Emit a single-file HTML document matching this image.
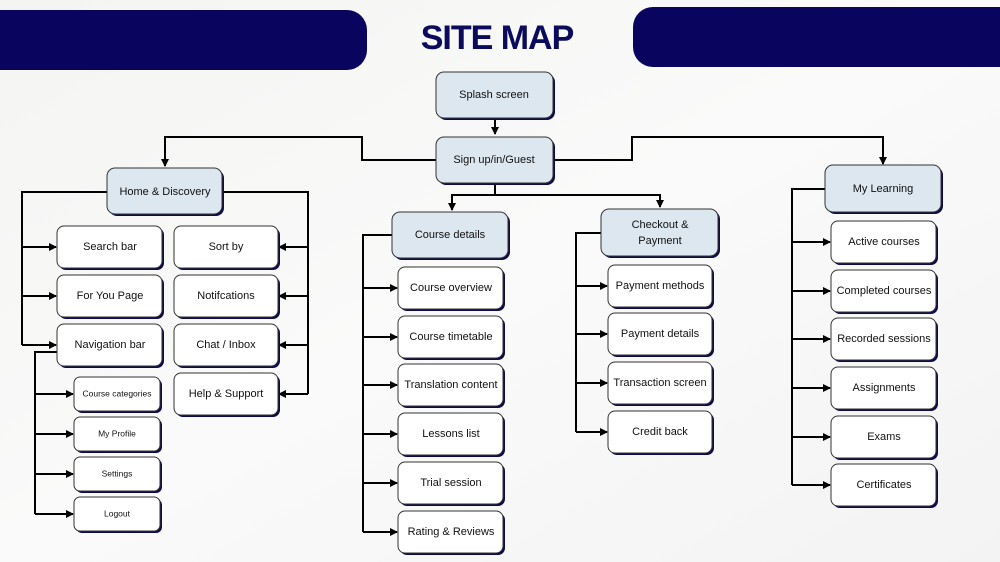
<!DOCTYPE html>
<html><head><meta charset="utf-8"><style>
html,body{margin:0;padding:0;background:#fff;}
svg{display:block;font-family:"Liberation Sans",sans-serif;}
.b{fill:#fff;stroke:#333;stroke-width:1;}
.h{fill:#dce7f0;stroke:#333;stroke-width:1;}
.s{fill:#0d0b4a;}
.t{font-size:11px;fill:#111;text-anchor:middle;dominant-baseline:middle;}
.ts{font-size:8.5px;fill:#111;text-anchor:middle;dominant-baseline:middle;}
.l{fill:none;stroke:#000;stroke-width:2;}
</style></head><body>
<svg width="1000" height="562" viewBox="0 0 1000 562" xmlns="http://www.w3.org/2000/svg">
<defs>
<marker id="a" markerWidth="8" markerHeight="8" refX="7" refY="4" orient="auto" markerUnits="userSpaceOnUse"><path d="M0,0 L8,4 L0,8 z" fill="#000"/></marker>
<linearGradient id="bg" x1="0" y1="0" x2="1" y2="1"><stop offset="0" stop-color="#f4f4f2"/><stop offset="0.5" stop-color="#fafafa"/><stop offset="1" stop-color="#f3f3f3"/></linearGradient>
</defs>
<rect width="1000" height="562" fill="url(#bg)"/>
<path d="M0,10 H347 A20,20 0 0 1 367,30 V50 A20,20 0 0 1 347,70 H0 Z" fill="#09055e"/>
<path d="M1000,7 H653 A20,20 0 0 0 633,27 V47 A20,20 0 0 0 653,67 H1000 Z" fill="#09055e"/>
<text x="497" y="49" text-anchor="middle" font-size="34" font-weight="bold" fill="#0b0a5c" letter-spacing="-1">SITE MAP</text>

<!-- connectors -->
<path class="l" d="M495,118 V134" marker-end="url(#a)"/>
<path class="l" d="M436,160 H362 V137 H165 V166" marker-end="url(#a)"/>
<path class="l" d="M553,160 H632 V137 H883 V164" marker-end="url(#a)"/>
<path class="l" d="M495,183 V195 H452 V210" marker-end="url(#a)"/>
<path class="l" d="M495,195 H660 V207" marker-end="url(#a)"/>

<path class="l" d="M107,192 H22 V345"/>
<path class="l" d="M22,247 H56" marker-end="url(#a)"/>
<path class="l" d="M22,296 H56" marker-end="url(#a)"/>
<path class="l" d="M22,345 H56" marker-end="url(#a)"/>
<path class="l" d="M222,192 H308 V394"/>
<path class="l" d="M308,247 H279" marker-end="url(#a)"/>
<path class="l" d="M308,296 H279" marker-end="url(#a)"/>
<path class="l" d="M308,345 H279" marker-end="url(#a)"/>
<path class="l" d="M308,394 H279" marker-end="url(#a)"/>
<path class="l" d="M57,352 H35 V514"/>
<path class="l" d="M35,394 H73" marker-end="url(#a)"/>
<path class="l" d="M35,434 H73" marker-end="url(#a)"/>
<path class="l" d="M35,474 H73" marker-end="url(#a)"/>
<path class="l" d="M35,514 H73" marker-end="url(#a)"/>

<path class="l" d="M392,235 H363 V532"/>
<path class="l" d="M363,288 H397" marker-end="url(#a)"/>
<path class="l" d="M363,337 H397" marker-end="url(#a)"/>
<path class="l" d="M363,385 H397" marker-end="url(#a)"/>
<path class="l" d="M363,434 H397" marker-end="url(#a)"/>
<path class="l" d="M363,483 H397" marker-end="url(#a)"/>
<path class="l" d="M363,532 H397" marker-end="url(#a)"/>

<path class="l" d="M601,233 H576 V432"/>
<path class="l" d="M576,286 H607" marker-end="url(#a)"/>
<path class="l" d="M576,334 H607" marker-end="url(#a)"/>
<path class="l" d="M576,383 H607" marker-end="url(#a)"/>
<path class="l" d="M576,432 H607" marker-end="url(#a)"/>

<path class="l" d="M825,189 H792 V485"/>
<path class="l" d="M792,242 H830" marker-end="url(#a)"/>
<path class="l" d="M792,291 H830" marker-end="url(#a)"/>
<path class="l" d="M792,339 H830" marker-end="url(#a)"/>
<path class="l" d="M792,388 H830" marker-end="url(#a)"/>
<path class="l" d="M792,437 H830" marker-end="url(#a)"/>
<path class="l" d="M792,485 H830" marker-end="url(#a)"/>

<!-- header boxes -->
<g>
<rect class="s" x="438" y="74" width="117" height="46" rx="8"/><rect class="h" x="436" y="72" width="117" height="46" rx="8"/><text class="t" x="494" y="95">Splash screen</text>
<rect class="s" x="438" y="139" width="117" height="46" rx="8"/><rect class="h" x="436" y="137" width="117" height="46" rx="8"/><text class="t" x="494" y="160">Sign up/in/Guest</text>
<rect class="s" x="109" y="170" width="115" height="46" rx="8"/><rect class="h" x="107" y="168" width="115" height="46" rx="8"/><text class="t" x="165" y="192">Home &amp; Discovery</text>
<rect class="s" x="394" y="214" width="116" height="46" rx="8"/><rect class="h" x="392" y="212" width="116" height="46" rx="8"/><text class="t" x="450" y="235">Course details</text>
<rect class="s" x="603" y="211" width="117" height="47" rx="8"/><rect class="h" x="601" y="209" width="117" height="47" rx="8"/><text class="t" x="660" y="225">Checkout &amp;</text><text class="t" x="660" y="241">Payment</text>
<rect class="s" x="827" y="167" width="116" height="47" rx="8"/><rect class="h" x="825" y="165" width="116" height="47" rx="8"/><text class="t" x="883" y="189">My Learning</text>
</g>

<!-- home children -->
<g>
<rect class="s" x="59" y="228" width="105" height="42" rx="7"/><rect class="b" x="57" y="226" width="105" height="42" rx="7"/><text class="t" x="110" y="247">Search bar</text>
<rect class="s" x="59" y="277" width="105" height="42" rx="7"/><rect class="b" x="57" y="275" width="105" height="42" rx="7"/><text class="t" x="110" y="296">For You Page</text>
<rect class="s" x="59" y="326" width="105" height="42" rx="7"/><rect class="b" x="57" y="324" width="105" height="42" rx="7"/><text class="t" x="110" y="345">Navigation bar</text>
<rect class="s" x="176" y="228" width="104" height="42" rx="7"/><rect class="b" x="174" y="226" width="104" height="42" rx="7"/><text class="t" x="226" y="247">Sort by</text>
<rect class="s" x="176" y="277" width="104" height="42" rx="7"/><rect class="b" x="174" y="275" width="104" height="42" rx="7"/><text class="t" x="226" y="296">Notifcations</text>
<rect class="s" x="176" y="326" width="104" height="42" rx="7"/><rect class="b" x="174" y="324" width="104" height="42" rx="7"/><text class="t" x="226" y="345">Chat / Inbox</text>
<rect class="s" x="176" y="375" width="104" height="42" rx="7"/><rect class="b" x="174" y="373" width="104" height="42" rx="7"/><text class="t" x="226" y="394">Help &amp; Support</text>
<rect class="s" x="76" y="379" width="86" height="34" rx="6"/><rect class="b" x="74" y="377" width="86" height="34" rx="6"/><text class="ts" x="117" y="394">Course categories</text>
<rect class="s" x="76" y="419" width="86" height="34" rx="6"/><rect class="b" x="74" y="417" width="86" height="34" rx="6"/><text class="ts" x="117" y="434">My Profile</text>
<rect class="s" x="76" y="459" width="86" height="34" rx="6"/><rect class="b" x="74" y="457" width="86" height="34" rx="6"/><text class="ts" x="117" y="474">Settings</text>
<rect class="s" x="76" y="499" width="86" height="34" rx="6"/><rect class="b" x="74" y="497" width="86" height="34" rx="6"/><text class="ts" x="117" y="514">Logout</text>
</g>

<!-- course children -->
<g>
<rect class="s" x="400" y="269" width="105" height="42" rx="7"/><rect class="b" x="398" y="267" width="105" height="42" rx="7"/><text class="t" x="451" y="288" font-size="10.5">Course overview</text>
<rect class="s" x="400" y="318" width="105" height="42" rx="7"/><rect class="b" x="398" y="316" width="105" height="42" rx="7"/><text class="t" x="451" y="337" font-size="10.5">Course timetable</text>
<rect class="s" x="400" y="366" width="105" height="42" rx="7"/><rect class="b" x="398" y="364" width="105" height="42" rx="7"/><text class="t" x="451" y="385" font-size="10.5">Translation content</text>
<rect class="s" x="400" y="415" width="105" height="42" rx="7"/><rect class="b" x="398" y="413" width="105" height="42" rx="7"/><text class="t" x="451" y="434" font-size="10.5">Lessons list</text>
<rect class="s" x="400" y="464" width="105" height="42" rx="7"/><rect class="b" x="398" y="462" width="105" height="42" rx="7"/><text class="t" x="451" y="483" font-size="10.5">Trial session</text>
<rect class="s" x="400" y="513" width="105" height="42" rx="7"/><rect class="b" x="398" y="511" width="105" height="42" rx="7"/><text class="t" x="451" y="532" font-size="10.5">Rating &amp; Reviews</text>
</g>

<!-- checkout children -->
<g>
<rect class="s" x="610" y="267" width="104" height="42" rx="7"/><rect class="b" x="608" y="265" width="104" height="42" rx="7"/><text class="t" x="660" y="286" font-size="10.5">Payment methods</text>
<rect class="s" x="610" y="315" width="104" height="42" rx="7"/><rect class="b" x="608" y="313" width="104" height="42" rx="7"/><text class="t" x="660" y="334" font-size="10.5">Payment details</text>
<rect class="s" x="610" y="364" width="104" height="42" rx="7"/><rect class="b" x="608" y="362" width="104" height="42" rx="7"/><text class="t" x="660" y="383" font-size="10.5">Transaction screen</text>
<rect class="s" x="610" y="413" width="104" height="42" rx="7"/><rect class="b" x="608" y="411" width="104" height="42" rx="7"/><text class="t" x="660" y="432" font-size="10.5">Credit back</text>
</g>

<!-- learning children -->
<g>
<rect class="s" x="833" y="223" width="105" height="42" rx="7"/><rect class="b" x="831" y="221" width="105" height="42" rx="7"/><text class="t" x="884" y="242" font-size="10.5">Active courses</text>
<rect class="s" x="833" y="272" width="105" height="42" rx="7"/><rect class="b" x="831" y="270" width="105" height="42" rx="7"/><text class="t" x="884" y="291" font-size="10.5">Completed courses</text>
<rect class="s" x="833" y="320" width="105" height="42" rx="7"/><rect class="b" x="831" y="318" width="105" height="42" rx="7"/><text class="t" x="884" y="339" font-size="10.5">Recorded sessions</text>
<rect class="s" x="833" y="369" width="105" height="42" rx="7"/><rect class="b" x="831" y="367" width="105" height="42" rx="7"/><text class="t" x="884" y="388" font-size="10.5">Assignments</text>
<rect class="s" x="833" y="418" width="105" height="42" rx="7"/><rect class="b" x="831" y="416" width="105" height="42" rx="7"/><text class="t" x="884" y="437" font-size="10.5">Exams</text>
<rect class="s" x="833" y="466" width="105" height="42" rx="7"/><rect class="b" x="831" y="464" width="105" height="42" rx="7"/><text class="t" x="884" y="485" font-size="10.5">Certificates</text>
</g>
</svg>
</body></html>
